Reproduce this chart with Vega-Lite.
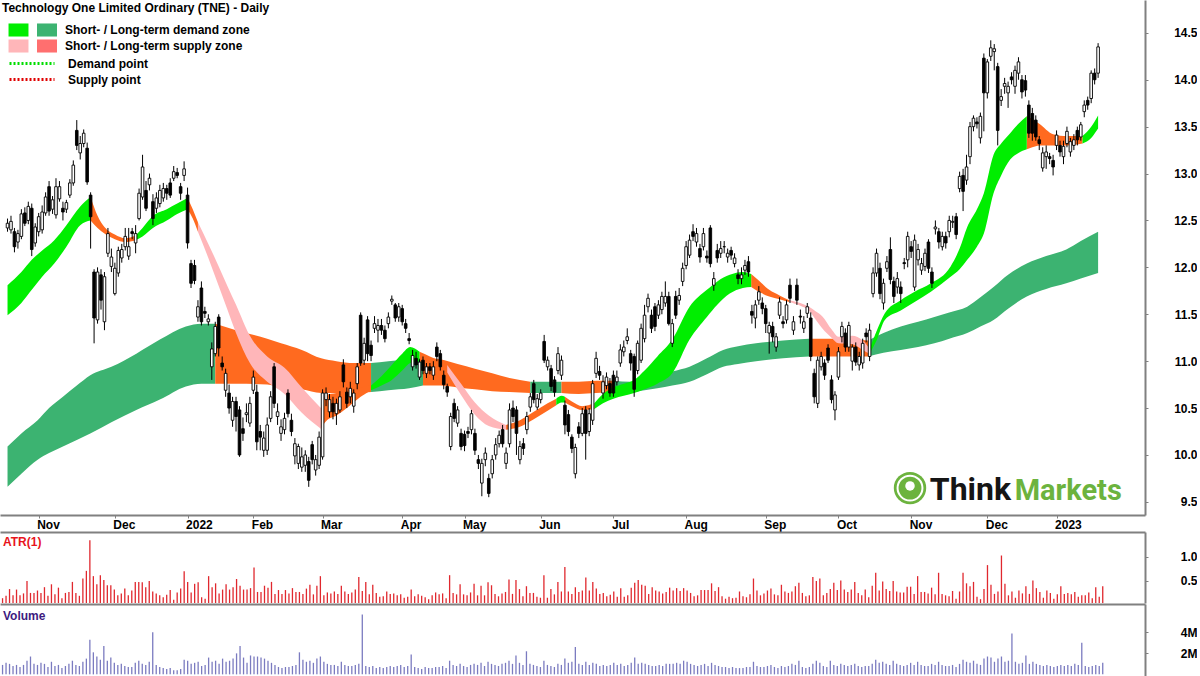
{
"$schema":"https://vega.github.io/schema/vega-lite/v6.json",
"padding":0,
"background":"white",
"spacing":0,
"config":{"view":{"stroke":null},"font":"Liberation Sans","concat":{"spacing":0}},
"datasets":{
"k":[
{"i":0,"o":12.42,"h":12.52,"l":12.38,"c":12.47,"a":0.14,"v":0.9},
{"i":1,"o":12.40,"h":12.55,"l":12.36,"c":12.49,"a":0.19,"v":1.1},
{"i":2,"o":12.38,"h":12.42,"l":12.16,"c":12.22,"a":0.33,"v":1.0},
{"i":3,"o":12.27,"h":12.40,"l":12.20,"c":12.36,"a":0.20,"v":0.8},
{"i":4,"o":12.33,"h":12.62,"l":12.30,"c":12.57,"a":0.32,"v":0.9},
{"i":5,"o":12.58,"h":12.64,"l":12.44,"c":12.47,"a":0.20,"v":0.7},
{"i":6,"o":12.50,"h":12.70,"l":12.46,"c":12.65,"a":0.24,"v":0.9},
{"i":7,"o":12.63,"h":12.68,"l":12.12,"c":12.19,"a":0.50,"v":1.3},
{"i":8,"o":12.26,"h":12.47,"l":12.22,"c":12.43,"a":0.25,"v":1.7},
{"i":9,"o":12.38,"h":12.58,"l":12.33,"c":12.54,"a":0.25,"v":1.0},
{"i":10,"o":12.40,"h":12.66,"l":12.36,"c":12.59,"a":0.30,"v":0.9},
{"i":11,"o":12.58,"h":12.80,"l":12.55,"c":12.75,"a":0.25,"v":1.1},
{"i":12,"o":12.86,"h":12.92,"l":12.55,"c":12.60,"a":0.37,"v":1.0},
{"i":13,"o":12.62,"h":12.76,"l":12.57,"c":12.72,"a":0.19,"v":0.7},
{"i":14,"o":12.56,"h":12.95,"l":12.52,"c":12.86,"a":0.43,"v":1.2},
{"i":15,"o":12.73,"h":12.92,"l":12.70,"c":12.86,"a":0.22,"v":0.8},
{"i":16,"o":12.63,"h":12.70,"l":12.50,"c":12.59,"a":0.36,"v":0.9},
{"i":17,"o":12.62,"h":12.72,"l":12.58,"c":12.69,"a":0.14,"v":0.6},
{"i":18,"o":12.77,"h":12.94,"l":12.74,"c":12.90,"a":0.25,"v":0.8},
{"i":19,"o":12.90,"h":13.14,"l":12.87,"c":13.09,"a":0.27,"v":1.0},
{"i":20,"o":13.46,"h":13.57,"l":13.25,"c":13.30,"a":0.48,"v":1.3},
{"i":21,"o":13.22,"h":13.40,"l":13.15,"c":13.32,"a":0.25,"v":0.9},
{"i":22,"o":13.32,"h":13.47,"l":13.28,"c":13.43,"a":0.19,"v":0.8},
{"i":23,"o":13.27,"h":13.33,"l":12.88,"c":12.91,"a":0.55,"v":1.2},
{"i":24,"o":12.77,"h":12.80,"l":12.20,"c":12.54,"a":0.71,"v":1.5},
{"i":25,"o":11.95,"h":11.98,"l":11.19,"c":11.46,"a":1.35,"v":3.3},
{"i":26,"o":11.44,"h":12.00,"l":11.40,"c":11.95,"a":0.60,"v":2.1},
{"i":27,"o":11.92,"h":11.98,"l":11.55,"c":11.65,"a":0.43,"v":1.7},
{"i":28,"o":11.42,"h":11.95,"l":11.33,"c":11.90,"a":0.62,"v":1.4},
{"i":29,"o":12.15,"h":12.42,"l":12.11,"c":12.36,"a":0.52,"v":2.7},
{"i":30,"o":12.01,"h":12.20,"l":11.95,"c":12.11,"a":0.41,"v":1.3},
{"i":31,"o":11.72,"h":12.05,"l":11.70,"c":11.99,"a":0.41,"v":1.6},
{"i":32,"o":11.94,"h":12.22,"l":11.90,"c":12.18,"a":0.32,"v":1.1},
{"i":33,"o":12.10,"h":12.25,"l":12.05,"c":12.19,"a":0.20,"v":0.9},
{"i":34,"o":12.22,"h":12.42,"l":12.18,"c":12.33,"a":0.24,"v":1.0},
{"i":35,"o":12.12,"h":12.42,"l":12.08,"c":12.22,"a":0.34,"v":0.8},
{"i":36,"o":12.38,"h":12.42,"l":12.30,"c":12.36,"a":0.20,"v":0.7},
{"i":37,"o":12.26,"h":12.45,"l":12.15,"c":12.36,"a":0.30,"v":0.7},
{"i":38,"o":12.52,"h":12.84,"l":12.50,"c":12.79,"a":0.48,"v":1.1},
{"i":39,"o":12.75,"h":13.20,"l":12.72,"c":13.07,"a":0.48,"v":1.3},
{"i":40,"o":12.82,"h":12.92,"l":12.60,"c":12.63,"a":0.47,"v":1.0},
{"i":41,"o":12.88,"h":13.00,"l":12.82,"c":12.95,"a":0.37,"v":0.9},
{"i":42,"o":12.70,"h":12.78,"l":12.45,"c":12.52,"a":0.50,"v":1.2},
{"i":43,"o":12.63,"h":12.80,"l":12.58,"c":12.74,"a":0.28,"v":4.0},
{"i":44,"o":12.68,"h":12.88,"l":12.64,"c":12.82,"a":0.24,"v":0.9},
{"i":45,"o":12.74,"h":12.90,"l":12.70,"c":12.84,"a":0.20,"v":0.7},
{"i":46,"o":12.84,"h":12.88,"l":12.72,"c":12.79,"a":0.16,"v":0.6},
{"i":47,"o":12.90,"h":12.95,"l":12.74,"c":12.77,"a":0.21,"v":0.5},
{"i":48,"o":12.95,"h":13.08,"l":12.92,"c":13.02,"a":0.31,"v":0.6},
{"i":49,"o":13.01,"h":13.06,"l":12.95,"c":12.98,"a":0.11,"v":0.4},
{"i":50,"o":12.86,"h":12.90,"l":12.72,"c":12.79,"a":0.26,"v":0.4},
{"i":51,"o":12.98,"h":13.13,"l":12.92,"c":13.05,"a":0.34,"v":0.5},
{"i":52,"o":12.77,"h":12.85,"l":12.20,"c":12.26,"a":0.70,"v":1.4},
{"i":53,"o":12.04,"h":12.08,"l":11.78,"c":11.83,"a":0.48,"v":1.3},
{"i":54,"o":12.02,"h":12.08,"l":11.82,"c":11.86,"a":0.26,"v":1.0},
{"i":55,"o":11.47,"h":11.65,"l":11.42,"c":11.58,"a":0.44,"v":1.1},
{"i":56,"o":11.78,"h":11.85,"l":11.38,"c":11.42,"a":0.47,"v":1.2},
{"i":57,"o":11.53,"h":11.58,"l":11.46,"c":11.51,"a":0.16,"v":0.8},
{"i":58,"o":11.42,"h":11.50,"l":11.38,"c":11.45,"a":0.13,"v":0.9},
{"i":59,"o":10.94,"h":11.20,"l":10.80,"c":11.13,"a":0.60,"v":1.6},
{"i":60,"o":11.08,"h":11.42,"l":11.05,"c":11.37,"a":0.37,"v":1.2},
{"i":61,"o":11.47,"h":11.50,"l":11.05,"c":11.14,"a":0.45,"v":1.3},
{"i":62,"o":10.98,"h":11.05,"l":10.90,"c":10.94,"a":0.24,"v":1.0},
{"i":63,"o":10.69,"h":10.92,"l":10.62,"c":10.87,"a":0.32,"v":1.5},
{"i":64,"o":10.66,"h":10.75,"l":10.44,"c":10.50,"a":0.43,"v":1.2},
{"i":65,"o":10.37,"h":10.62,"l":10.30,"c":10.57,"a":0.32,"v":1.3},
{"i":66,"o":10.57,"h":10.62,"l":10.25,"c":10.41,"a":0.37,"v":1.5},
{"i":67,"o":10.48,"h":10.52,"l":9.98,"c":10.00,"a":0.54,"v":2.0},
{"i":68,"o":10.28,"h":10.40,"l":10.15,"c":10.23,"a":0.40,"v":2.7},
{"i":69,"o":10.43,"h":10.55,"l":10.35,"c":10.45,"a":0.32,"v":1.6},
{"i":70,"o":10.34,"h":10.62,"l":10.30,"c":10.55,"a":0.32,"v":1.1},
{"i":71,"o":10.69,"h":10.90,"l":10.65,"c":10.83,"a":0.35,"v":1.8},
{"i":72,"o":10.67,"h":10.75,"l":10.05,"c":10.14,"a":0.78,"v":1.7},
{"i":73,"o":10.25,"h":10.32,"l":10.05,"c":10.19,"a":0.27,"v":1.7},
{"i":74,"o":10.05,"h":10.25,"l":9.98,"c":10.18,"a":0.27,"v":1.6},
{"i":75,"o":10.05,"h":10.40,"l":10.00,"c":10.32,"a":0.40,"v":1.5},
{"i":76,"o":10.39,"h":10.68,"l":10.35,"c":10.62,"a":0.36,"v":1.3},
{"i":77,"o":10.94,"h":10.98,"l":10.50,"c":10.55,"a":0.48,"v":1.1},
{"i":78,"o":10.41,"h":10.55,"l":10.32,"c":10.46,"a":0.23,"v":0.9},
{"i":79,"o":10.23,"h":10.38,"l":10.15,"c":10.30,"a":0.31,"v":0.7},
{"i":80,"o":10.27,"h":10.45,"l":10.22,"c":10.39,"a":0.23,"v":0.6},
{"i":81,"o":10.66,"h":10.70,"l":10.40,"c":10.44,"a":0.31,"v":0.7},
{"i":82,"o":10.37,"h":10.44,"l":10.20,"c":10.25,"a":0.24,"v":0.7},
{"i":83,"o":9.99,"h":10.18,"l":9.90,"c":10.12,"a":0.35,"v":0.8},
{"i":84,"o":9.91,"h":10.12,"l":9.85,"c":10.09,"a":0.27,"v":0.9},
{"i":85,"o":9.87,"h":10.08,"l":9.82,"c":9.98,"a":0.27,"v":2.1},
{"i":86,"o":9.89,"h":10.05,"l":9.82,"c":10.00,"a":0.23,"v":1.4},
{"i":87,"o":9.93,"h":9.98,"l":9.66,"c":9.73,"a":0.34,"v":1.2},
{"i":88,"o":10.11,"h":10.15,"l":9.90,"c":9.95,"a":0.42,"v":1.3},
{"i":89,"o":9.84,"h":10.00,"l":9.78,"c":9.95,"a":0.22,"v":1.1},
{"i":90,"o":9.89,"h":10.25,"l":9.85,"c":10.19,"a":0.40,"v":1.5},
{"i":91,"o":9.98,"h":10.70,"l":9.95,"c":10.66,"a":0.60,"v":1.7},
{"i":92,"o":10.59,"h":10.72,"l":10.52,"c":10.66,"a":0.20,"v":1.2},
{"i":93,"o":10.46,"h":10.65,"l":10.40,"c":10.59,"a":0.26,"v":1.0},
{"i":94,"o":10.55,"h":10.62,"l":10.38,"c":10.46,"a":0.24,"v":0.9},
{"i":95,"o":10.44,"h":10.60,"l":10.32,"c":10.55,"a":0.28,"v":0.9},
{"i":96,"o":10.48,"h":10.68,"l":10.45,"c":10.62,"a":0.23,"v":0.8},
{"i":97,"o":10.96,"h":11.02,"l":10.72,"c":10.78,"a":0.40,"v":1.2},
{"i":98,"o":10.67,"h":10.72,"l":10.50,"c":10.55,"a":0.28,"v":0.9},
{"i":99,"o":10.62,"h":10.78,"l":10.55,"c":10.71,"a":0.23,"v":0.8},
{"i":100,"o":10.52,"h":10.70,"l":10.45,"c":10.66,"a":0.26,"v":0.8},
{"i":101,"o":10.76,"h":10.98,"l":10.70,"c":10.94,"a":0.32,"v":0.9},
{"i":102,"o":11.49,"h":11.52,"l":10.95,"c":10.98,"a":0.58,"v":1.0},
{"i":103,"o":11.01,"h":11.25,"l":10.96,"c":11.19,"a":0.29,"v":5.7},
{"i":104,"o":11.44,"h":11.48,"l":11.00,"c":11.08,"a":0.48,"v":0.8},
{"i":105,"o":11.17,"h":11.22,"l":11.00,"c":11.06,"a":0.22,"v":0.7},
{"i":106,"o":11.35,"h":11.48,"l":11.30,"c":11.40,"a":0.42,"v":0.8},
{"i":107,"o":11.33,"h":11.45,"l":11.20,"c":11.38,"a":0.25,"v":0.6},
{"i":108,"o":11.38,"h":11.45,"l":11.28,"c":11.33,"a":0.17,"v":0.7},
{"i":109,"o":11.33,"h":11.38,"l":11.20,"c":11.24,"a":0.18,"v":0.6},
{"i":110,"o":11.40,"h":11.52,"l":11.35,"c":11.47,"a":0.28,"v":0.7},
{"i":111,"o":11.64,"h":11.70,"l":11.60,"c":11.66,"a":0.23,"v":0.8},
{"i":112,"o":11.60,"h":11.62,"l":11.42,"c":11.46,"a":0.24,"v":0.7},
{"i":113,"o":11.47,"h":11.62,"l":11.42,"c":11.58,"a":0.20,"v":0.8},
{"i":114,"o":11.56,"h":11.60,"l":11.38,"c":11.42,"a":0.22,"v":0.9},
{"i":115,"o":11.40,"h":11.45,"l":11.30,"c":11.35,"a":0.15,"v":0.7},
{"i":116,"o":11.24,"h":11.30,"l":11.18,"c":11.22,"a":0.17,"v":0.8},
{"i":117,"o":10.94,"h":11.12,"l":10.90,"c":11.06,"a":0.32,"v":1.9},
{"i":118,"o":11.03,"h":11.10,"l":10.92,"c":10.96,"a":0.18,"v":0.7},
{"i":119,"o":10.83,"h":11.02,"l":10.80,"c":10.99,"a":0.22,"v":0.6},
{"i":120,"o":11.01,"h":11.05,"l":10.86,"c":10.90,"a":0.19,"v":0.5},
{"i":121,"o":10.87,"h":10.98,"l":10.82,"c":10.94,"a":0.16,"v":0.7},
{"i":122,"o":10.94,"h":10.98,"l":10.86,"c":10.90,"a":0.12,"v":0.6},
{"i":123,"o":10.85,"h":11.00,"l":10.80,"c":10.94,"a":0.20,"v":0.6},
{"i":124,"o":11.15,"h":11.20,"l":11.00,"c":11.05,"a":0.26,"v":0.7},
{"i":125,"o":11.08,"h":11.12,"l":10.90,"c":10.94,"a":0.22,"v":0.7},
{"i":126,"o":10.85,"h":10.90,"l":10.70,"c":10.75,"a":0.24,"v":0.8},
{"i":127,"o":10.73,"h":10.76,"l":10.62,"c":10.67,"a":0.14,"v":0.6},
{"i":128,"o":10.09,"h":10.45,"l":10.05,"c":10.41,"a":0.62,"v":1.3},
{"i":129,"o":10.55,"h":10.60,"l":10.35,"c":10.39,"a":0.25,"v":0.9},
{"i":130,"o":10.34,"h":10.52,"l":10.30,"c":10.48,"a":0.22,"v":0.8},
{"i":131,"o":10.23,"h":10.28,"l":10.05,"c":10.09,"a":0.43,"v":1.0},
{"i":132,"o":10.22,"h":10.26,"l":10.04,"c":10.10,"a":0.22,"v":0.8},
{"i":133,"o":10.25,"h":10.30,"l":10.18,"c":10.23,"a":0.20,"v":0.7},
{"i":134,"o":10.27,"h":10.48,"l":10.22,"c":10.44,"a":0.26,"v":0.9},
{"i":135,"o":10.23,"h":10.28,"l":10.00,"c":10.05,"a":0.44,"v":1.0},
{"i":136,"o":9.95,"h":10.00,"l":9.85,"c":9.91,"a":0.20,"v":0.9},
{"i":137,"o":9.70,"h":9.96,"l":9.56,"c":9.91,"a":0.40,"v":1.1},
{"i":138,"o":9.95,"h":10.08,"l":9.88,"c":10.02,"a":0.20,"v":0.8},
{"i":139,"o":9.75,"h":9.80,"l":9.55,"c":9.59,"a":0.47,"v":1.2},
{"i":140,"o":9.80,"h":10.00,"l":9.75,"c":9.95,"a":0.41,"v":1.0},
{"i":141,"o":10.00,"h":10.18,"l":9.95,"c":10.11,"a":0.23,"v":0.9},
{"i":142,"o":10.12,"h":10.26,"l":10.08,"c":10.21,"a":0.18,"v":0.8},
{"i":143,"o":10.27,"h":10.32,"l":10.08,"c":10.12,"a":0.24,"v":1.0},
{"i":144,"o":9.91,"h":10.08,"l":9.85,"c":10.02,"a":0.27,"v":1.1},
{"i":145,"o":10.12,"h":10.55,"l":10.08,"c":10.48,"a":0.53,"v":1.3},
{"i":146,"o":10.50,"h":10.58,"l":10.35,"c":10.41,"a":0.23,"v":1.0},
{"i":147,"o":10.48,"h":10.52,"l":10.00,"c":10.23,"a":0.52,"v":1.8},
{"i":148,"o":9.95,"h":10.15,"l":9.90,"c":10.09,"a":0.33,"v":1.1},
{"i":149,"o":10.12,"h":10.18,"l":10.00,"c":10.07,"a":0.18,"v":0.9},
{"i":150,"o":10.27,"h":10.46,"l":10.22,"c":10.41,"a":0.39,"v":2.2},
{"i":151,"o":10.51,"h":10.66,"l":10.46,"c":10.62,"a":0.25,"v":1.0},
{"i":152,"o":10.76,"h":10.80,"l":10.55,"c":10.59,"a":0.25,"v":0.9},
{"i":153,"o":10.51,"h":10.65,"l":10.48,"c":10.60,"a":0.17,"v":0.8},
{"i":154,"o":10.59,"h":10.70,"l":10.55,"c":10.66,"a":0.15,"v":0.7},
{"i":155,"o":11.21,"h":11.28,"l":10.98,"c":11.01,"a":0.62,"v":1.3},
{"i":156,"o":10.94,"h":11.05,"l":10.90,"c":11.01,"a":0.15,"v":0.9},
{"i":157,"o":10.92,"h":10.96,"l":10.68,"c":10.73,"a":0.33,"v":0.8},
{"i":158,"o":10.80,"h":10.84,"l":10.62,"c":10.67,"a":0.22,"v":0.7},
{"i":159,"o":10.90,"h":11.15,"l":10.86,"c":11.08,"a":0.48,"v":1.0},
{"i":160,"o":10.85,"h":11.06,"l":10.80,"c":11.01,"a":0.28,"v":0.9},
{"i":161,"o":10.53,"h":10.58,"l":10.22,"c":10.32,"a":0.79,"v":1.5},
{"i":162,"o":10.43,"h":10.48,"l":10.20,"c":10.25,"a":0.28,"v":1.1},
{"i":163,"o":10.19,"h":10.22,"l":10.02,"c":10.07,"a":0.23,"v":1.2},
{"i":164,"o":9.80,"h":10.12,"l":9.75,"c":10.08,"a":0.37,"v":2.6},
{"i":165,"o":10.30,"h":10.35,"l":10.18,"c":10.23,"a":0.27,"v":1.0},
{"i":166,"o":10.23,"h":10.50,"l":10.20,"c":10.44,"a":0.30,"v":0.9},
{"i":167,"o":10.48,"h":10.52,"l":9.95,"c":10.23,"a":0.57,"v":1.2},
{"i":168,"o":10.25,"h":10.50,"l":10.20,"c":10.44,"a":0.30,"v":0.9},
{"i":169,"o":10.37,"h":10.80,"l":10.32,"c":10.76,"a":0.48,"v":1.1},
{"i":170,"o":10.87,"h":11.10,"l":10.82,"c":11.03,"a":0.34,"v":1.0},
{"i":171,"o":10.89,"h":10.95,"l":10.80,"c":10.85,"a":0.23,"v":0.8},
{"i":172,"o":10.66,"h":10.85,"l":10.60,"c":10.78,"a":0.25,"v":0.9},
{"i":173,"o":10.74,"h":10.88,"l":10.70,"c":10.83,"a":0.18,"v":0.8},
{"i":174,"o":10.76,"h":10.82,"l":10.62,"c":10.66,"a":0.21,"v":0.9},
{"i":175,"o":10.85,"h":10.90,"l":10.62,"c":10.66,"a":0.28,"v":1.1},
{"i":176,"o":10.78,"h":10.90,"l":10.74,"c":10.83,"a":0.17,"v":0.9},
{"i":177,"o":10.98,"h":11.18,"l":10.94,"c":11.12,"a":0.35,"v":1.0},
{"i":178,"o":11.10,"h":11.22,"l":11.05,"c":11.15,"a":0.17,"v":0.8},
{"i":179,"o":11.22,"h":11.35,"l":11.18,"c":11.26,"a":0.20,"v":0.9},
{"i":180,"o":11.08,"h":11.12,"l":10.90,"c":10.98,"a":0.36,"v":1.1},
{"i":181,"o":11.05,"h":11.08,"l":10.62,"c":10.70,"a":0.46,"v":1.6},
{"i":182,"o":10.90,"h":11.22,"l":10.86,"c":11.19,"a":0.52,"v":1.0},
{"i":183,"o":11.01,"h":11.40,"l":10.98,"c":11.35,"a":0.42,"v":1.1},
{"i":184,"o":11.24,"h":11.60,"l":11.20,"c":11.49,"a":0.40,"v":1.0},
{"i":185,"o":11.58,"h":11.72,"l":11.52,"c":11.67,"a":0.23,"v":0.9},
{"i":186,"o":11.49,"h":11.55,"l":11.30,"c":11.35,"a":0.37,"v":0.8},
{"i":187,"o":11.58,"h":11.62,"l":11.32,"c":11.37,"a":0.30,"v":0.8},
{"i":188,"o":11.49,"h":11.65,"l":11.45,"c":11.60,"a":0.28,"v":0.9},
{"i":189,"o":11.55,"h":11.74,"l":11.50,"c":11.69,"a":0.24,"v":0.8},
{"i":190,"o":11.62,"h":11.85,"l":11.58,"c":11.69,"a":0.27,"v":1.0},
{"i":191,"o":11.69,"h":11.74,"l":11.38,"c":11.40,"a":0.36,"v":1.0},
{"i":192,"o":11.19,"h":11.45,"l":11.15,"c":11.40,"a":0.30,"v":1.0},
{"i":193,"o":11.69,"h":11.75,"l":11.45,"c":11.49,"a":0.35,"v":1.1},
{"i":194,"o":11.65,"h":11.78,"l":11.60,"c":11.70,"a":0.29,"v":1.0},
{"i":195,"o":11.85,"h":12.05,"l":11.80,"c":11.99,"a":0.35,"v":1.3},
{"i":196,"o":12.02,"h":12.28,"l":11.98,"c":12.22,"a":0.30,"v":1.2},
{"i":197,"o":12.13,"h":12.35,"l":12.10,"c":12.29,"a":0.25,"v":1.0},
{"i":198,"o":12.38,"h":12.46,"l":12.28,"c":12.33,"a":0.18,"v":0.9},
{"i":199,"o":12.27,"h":12.42,"l":12.22,"c":12.36,"a":0.20,"v":0.8},
{"i":200,"o":12.20,"h":12.25,"l":12.05,"c":12.11,"a":0.31,"v":0.9},
{"i":201,"o":12.22,"h":12.42,"l":12.18,"c":12.36,"a":0.31,"v":1.0},
{"i":202,"o":12.12,"h":12.18,"l":12.05,"c":12.10,"a":0.31,"v":0.8},
{"i":203,"o":12.42,"h":12.45,"l":12.00,"c":12.04,"a":0.45,"v":1.1},
{"i":204,"o":11.81,"h":11.95,"l":11.75,"c":11.88,"a":0.29,"v":0.9},
{"i":205,"o":12.18,"h":12.25,"l":12.05,"c":12.10,"a":0.37,"v":0.8},
{"i":206,"o":12.15,"h":12.28,"l":12.10,"c":12.20,"a":0.18,"v":0.7},
{"i":207,"o":12.22,"h":12.28,"l":12.15,"c":12.22,"a":0.13,"v":0.7},
{"i":208,"o":12.11,"h":12.20,"l":12.05,"c":12.15,"a":0.17,"v":0.6},
{"i":209,"o":12.18,"h":12.22,"l":12.08,"c":12.13,"a":0.14,"v":0.7},
{"i":210,"o":12.04,"h":12.15,"l":12.00,"c":12.10,"a":0.15,"v":0.6},
{"i":211,"o":11.92,"h":11.98,"l":11.82,"c":11.88,"a":0.28,"v":0.6},
{"i":212,"o":11.88,"h":12.00,"l":11.82,"c":11.92,"a":0.18,"v":0.6},
{"i":213,"o":11.97,"h":12.08,"l":11.92,"c":12.02,"a":0.16,"v":0.7},
{"i":214,"o":12.06,"h":12.12,"l":11.90,"c":11.95,"a":0.22,"v":0.7},
{"i":215,"o":11.53,"h":11.60,"l":11.40,"c":11.49,"a":0.55,"v":1.2},
{"i":216,"o":11.46,"h":11.65,"l":11.35,"c":11.60,"a":0.30,"v":0.8},
{"i":217,"o":11.65,"h":11.80,"l":11.60,"c":11.74,"a":0.20,"v":0.7},
{"i":218,"o":11.62,"h":11.68,"l":11.50,"c":11.56,"a":0.24,"v":0.7},
{"i":219,"o":11.56,"h":11.60,"l":11.30,"c":11.40,"a":0.30,"v":0.8},
{"i":220,"o":11.30,"h":11.42,"l":11.08,"c":11.38,"a":0.34,"v":0.9},
{"i":221,"o":11.37,"h":11.42,"l":11.20,"c":11.26,"a":0.22,"v":0.7},
{"i":222,"o":11.15,"h":11.30,"l":11.10,"c":11.26,"a":0.20,"v":0.6},
{"i":223,"o":11.49,"h":11.68,"l":11.45,"c":11.63,"a":0.42,"v":0.8},
{"i":224,"o":11.42,"h":11.48,"l":11.35,"c":11.40,"a":0.28,"v":0.7},
{"i":225,"o":11.44,"h":11.65,"l":11.40,"c":11.60,"a":0.25,"v":0.8},
{"i":226,"o":11.81,"h":11.88,"l":11.62,"c":11.67,"a":0.28,"v":1.0},
{"i":227,"o":11.33,"h":11.48,"l":11.28,"c":11.42,"a":0.39,"v":0.9},
{"i":228,"o":11.81,"h":11.88,"l":11.60,"c":11.65,"a":0.46,"v":1.3},
{"i":229,"o":11.48,"h":11.55,"l":11.40,"c":11.47,"a":0.25,"v":0.7},
{"i":230,"o":11.35,"h":11.48,"l":11.30,"c":11.42,"a":0.18,"v":0.6},
{"i":231,"o":11.51,"h":11.62,"l":11.46,"c":11.58,"a":0.20,"v":0.7},
{"i":232,"o":11.46,"h":11.52,"l":11.00,"c":11.05,"a":0.58,"v":1.0},
{"i":233,"o":10.87,"h":10.92,"l":10.55,"c":10.62,"a":0.50,"v":1.3},
{"i":234,"o":10.55,"h":11.05,"l":10.50,"c":11.01,"a":0.55,"v":1.1},
{"i":235,"o":10.94,"h":11.10,"l":10.90,"c":11.05,"a":0.20,"v":0.8},
{"i":236,"o":10.98,"h":11.02,"l":10.80,"c":10.85,"a":0.25,"v":0.7},
{"i":237,"o":11.14,"h":11.18,"l":10.98,"c":11.01,"a":0.33,"v":1.3},
{"i":238,"o":10.80,"h":10.85,"l":10.55,"c":10.59,"a":0.46,"v":0.9},
{"i":239,"o":10.48,"h":10.68,"l":10.37,"c":10.64,"a":0.31,"v":0.8},
{"i":240,"o":10.83,"h":11.15,"l":10.80,"c":11.10,"a":0.51,"v":1.0},
{"i":241,"o":11.26,"h":11.42,"l":11.20,"c":11.37,"a":0.32,"v":0.9},
{"i":242,"o":11.30,"h":11.35,"l":11.10,"c":11.15,"a":0.27,"v":0.8},
{"i":243,"o":11.15,"h":11.42,"l":11.10,"c":11.38,"a":0.32,"v":0.9},
{"i":244,"o":11.00,"h":11.18,"l":10.90,"c":11.15,"a":0.48,"v":1.0},
{"i":245,"o":11.15,"h":11.20,"l":10.95,"c":10.99,"a":0.25,"v":0.8},
{"i":246,"o":10.96,"h":11.10,"l":10.90,"c":11.05,"a":0.20,"v":0.7},
{"i":247,"o":10.98,"h":11.24,"l":10.92,"c":11.19,"a":0.32,"v":0.8},
{"i":248,"o":11.30,"h":11.35,"l":11.20,"c":11.26,"a":0.16,"v":0.8},
{"i":249,"o":11.05,"h":11.40,"l":11.00,"c":11.33,"a":0.40,"v":1.0},
{"i":250,"o":11.72,"h":12.00,"l":11.68,"c":11.94,"a":0.67,"v":1.4},
{"i":251,"o":11.94,"h":12.20,"l":11.90,"c":12.15,"a":0.30,"v":1.1},
{"i":252,"o":11.99,"h":12.05,"l":11.66,"c":11.72,"a":0.49,"v":1.2},
{"i":253,"o":11.62,"h":11.88,"l":11.55,"c":11.83,"a":0.33,"v":1.0},
{"i":254,"o":11.99,"h":12.12,"l":11.95,"c":12.06,"a":0.29,"v":0.9},
{"i":255,"o":12.19,"h":12.32,"l":11.82,"c":11.87,"a":0.50,"v":1.3},
{"i":256,"o":11.85,"h":11.90,"l":11.62,"c":11.69,"a":0.28,"v":1.0},
{"i":257,"o":11.79,"h":11.95,"l":11.72,"c":11.88,"a":0.26,"v":0.9},
{"i":258,"o":11.79,"h":11.85,"l":11.62,"c":11.72,"a":0.26,"v":0.8},
{"i":259,"o":12.05,"h":12.10,"l":11.98,"c":12.04,"a":0.38,"v":0.9},
{"i":260,"o":12.08,"h":12.38,"l":12.00,"c":12.33,"a":0.38,"v":1.1},
{"i":261,"o":12.22,"h":12.28,"l":12.10,"c":12.17,"a":0.23,"v":0.9},
{"i":262,"o":11.79,"h":12.35,"l":11.75,"c":12.29,"a":0.60,"v":1.2},
{"i":263,"o":12.08,"h":12.25,"l":12.02,"c":12.19,"a":0.27,"v":0.9},
{"i":264,"o":11.97,"h":12.10,"l":11.92,"c":12.04,"a":0.27,"v":0.8},
{"i":265,"o":12.01,"h":12.20,"l":11.96,"c":12.15,"a":0.24,"v":0.8},
{"i":266,"o":12.27,"h":12.30,"l":11.94,"c":11.99,"a":0.36,"v":1.0},
{"i":267,"o":11.95,"h":12.00,"l":11.78,"c":11.83,"a":0.22,"v":0.9},
{"i":268,"o":12.41,"h":12.50,"l":12.35,"c":12.43,"a":0.67,"v":1.2},
{"i":269,"o":12.38,"h":12.42,"l":12.20,"c":12.27,"a":0.23,"v":0.9},
{"i":270,"o":12.22,"h":12.38,"l":12.18,"c":12.33,"a":0.20,"v":0.8},
{"i":271,"o":12.33,"h":12.38,"l":12.20,"c":12.26,"a":0.18,"v":0.8},
{"i":272,"o":12.38,"h":12.55,"l":12.32,"c":12.50,"a":0.29,"v":0.9},
{"i":273,"o":12.48,"h":12.55,"l":12.42,"c":12.49,"a":0.13,"v":0.7},
{"i":274,"o":12.54,"h":12.58,"l":12.30,"c":12.35,"a":0.28,"v":1.0},
{"i":275,"o":12.84,"h":13.02,"l":12.80,"c":12.97,"a":0.67,"v":1.4},
{"i":276,"o":12.98,"h":13.05,"l":12.60,"c":12.81,"a":0.45,"v":1.2},
{"i":277,"o":12.93,"h":13.20,"l":12.88,"c":13.07,"a":0.39,"v":1.1},
{"i":278,"o":13.18,"h":13.55,"l":13.10,"c":13.50,"a":0.48,"v":1.3},
{"i":279,"o":13.50,"h":13.62,"l":13.45,"c":13.59,"a":0.17,"v":1.0},
{"i":280,"o":13.55,"h":13.60,"l":13.48,"c":13.53,"a":0.12,"v":0.9},
{"i":281,"o":13.38,"h":13.65,"l":13.32,"c":13.61,"a":0.33,"v":1.5},
{"i":282,"o":14.23,"h":14.28,"l":13.45,"c":13.86,"a":0.83,"v":1.7},
{"i":283,"o":13.86,"h":14.22,"l":13.80,"c":14.19,"a":0.42,"v":1.6},
{"i":284,"o":14.25,"h":14.42,"l":14.20,"c":14.34,"a":0.23,"v":1.2},
{"i":285,"o":14.30,"h":14.38,"l":14.10,"c":14.33,"a":0.28,"v":1.5},
{"i":286,"o":14.14,"h":14.18,"l":13.30,"c":13.46,"a":1.03,"v":1.7},
{"i":287,"o":13.78,"h":13.90,"l":13.72,"c":13.82,"a":0.44,"v":1.2},
{"i":288,"o":13.93,"h":14.02,"l":13.85,"c":13.96,"a":0.20,"v":1.3},
{"i":289,"o":13.86,"h":13.98,"l":13.70,"c":13.93,"a":0.28,"v":3.9},
{"i":290,"o":14.03,"h":14.08,"l":13.95,"c":14.00,"a":0.15,"v":1.2},
{"i":291,"o":13.93,"h":14.15,"l":13.85,"c":14.10,"a":0.30,"v":1.0},
{"i":292,"o":14.07,"h":14.24,"l":14.00,"c":14.19,"a":0.24,"v":1.1},
{"i":293,"o":14.00,"h":14.05,"l":13.80,"c":13.87,"a":0.39,"v":1.8},
{"i":294,"o":13.99,"h":14.05,"l":13.82,"c":13.89,"a":0.23,"v":1.0},
{"i":295,"o":13.73,"h":13.78,"l":13.38,"c":13.43,"a":0.51,"v":1.2},
{"i":296,"o":13.64,"h":13.70,"l":13.35,"c":13.43,"a":0.35,"v":1.0},
{"i":297,"o":13.57,"h":13.62,"l":13.35,"c":13.39,"a":0.27,"v":0.9},
{"i":298,"o":13.36,"h":13.40,"l":13.25,"c":13.32,"a":0.15,"v":0.8},
{"i":299,"o":13.06,"h":13.28,"l":13.02,"c":13.22,"a":0.30,"v":0.9},
{"i":300,"o":13.18,"h":13.30,"l":13.05,"c":13.23,"a":0.25,"v":0.8},
{"i":301,"o":13.18,"h":13.22,"l":13.10,"c":13.16,"a":0.13,"v":0.7},
{"i":302,"o":13.14,"h":13.20,"l":12.98,"c":13.07,"a":0.22,"v":0.8},
{"i":303,"o":13.30,"h":13.46,"l":13.25,"c":13.41,"a":0.39,"v":0.9},
{"i":304,"o":13.30,"h":13.35,"l":13.18,"c":13.23,"a":0.23,"v":0.8},
{"i":305,"o":13.18,"h":13.35,"l":13.10,"c":13.29,"a":0.25,"v":0.9},
{"i":306,"o":13.32,"h":13.50,"l":13.28,"c":13.45,"a":0.22,"v":0.8},
{"i":307,"o":13.23,"h":13.38,"l":13.18,"c":13.34,"a":0.27,"v":1.0},
{"i":308,"o":13.30,"h":13.42,"l":13.25,"c":13.36,"a":0.17,"v":0.9},
{"i":309,"o":13.46,"h":13.50,"l":13.30,"c":13.36,"a":0.20,"v":3.0},
{"i":310,"o":13.39,"h":13.55,"l":13.35,"c":13.52,"a":0.20,"v":0.8},
{"i":311,"o":13.66,"h":13.78,"l":13.60,"c":13.73,"a":0.26,"v":0.7},
{"i":312,"o":13.78,"h":13.82,"l":13.68,"c":13.73,"a":0.14,"v":0.8},
{"i":313,"o":13.80,"h":14.10,"l":13.75,"c":14.07,"a":0.37,"v":0.9},
{"i":314,"o":14.07,"h":14.12,"l":13.95,"c":14.00,"a":0.17,"v":0.8},
{"i":315,"o":14.07,"h":14.39,"l":14.02,"c":14.35,"a":0.39,"v":1.1}
],
"sb":[
{"i":0,"hi":11.81,"lo":11.49,"g":"a1","z":"sd"},{"i":4,"hi":11.95,"lo":11.62,"g":"a1","z":"sd"},{"i":7,"hi":12.08,"lo":11.76,"g":"a1","z":"sd"},{"i":10,"hi":12.18,"lo":11.90,"g":"a1","z":"sd"},{"i":13.5,"hi":12.29,"lo":12.04,"g":"a1","z":"sd"},{"i":17,"hi":12.45,"lo":12.22,"g":"a1","z":"sd"},{"i":21,"hi":12.65,"lo":12.45,"g":"a1","z":"sd"},{"i":24,"hi":12.75,"lo":12.50,"g":"a1","z":"sd"},
{"i":37,"hi":12.34,"lo":12.29,"g":"a2","z":"sd"},{"i":39,"hi":12.42,"lo":12.33,"g":"a2","z":"sd"},{"i":42,"hi":12.55,"lo":12.42,"g":"a2","z":"sd"},{"i":46,"hi":12.62,"lo":12.50,"g":"a2","z":"sd"},{"i":49,"hi":12.68,"lo":12.57,"g":"a2","z":"sd"},{"i":52,"hi":12.74,"lo":12.62,"g":"a2","z":"sd"},
{"i":55,"hi":12.48,"lo":12.38,"g":"a3","z":"ss"},{"i":58,"hi":12.25,"lo":12.10,"g":"a3","z":"ss"},{"i":61,"hi":12.01,"lo":11.80,"g":"a3","z":"ss"},{"i":63.5,"hi":11.80,"lo":11.55,"g":"a3","z":"ss"},{"i":66,"hi":11.60,"lo":11.30,"g":"a3","z":"ss"},{"i":70,"hi":11.27,"lo":10.98,"g":"a3","z":"ss"},{"i":75,"hi":11.05,"lo":10.78,"g":"a3","z":"ss"},{"i":80,"hi":10.93,"lo":10.65,"g":"a3","z":"ss"},{"i":85,"hi":10.72,"lo":10.45,"g":"a3","z":"ss"},{"i":90.5,"hi":10.50,"lo":10.28,"g":"a3","z":"ss"},
{"i":105,"hi":10.74,"lo":10.69,"g":"a4","z":"sd"},{"i":108,"hi":10.84,"lo":10.74,"g":"a4","z":"sd"},{"i":111,"hi":10.96,"lo":10.80,"g":"a4","z":"sd"},{"i":114,"hi":11.08,"lo":10.90,"g":"a4","z":"sd"},{"i":116.3,"hi":11.15,"lo":10.98,"g":"a4","z":"sd"},{"i":119,"hi":11.10,"lo":11.00,"g":"a4","z":"sd"},
{"i":127,"hi":10.96,"lo":10.88,"g":"a5","z":"ss"},{"i":131,"hi":10.76,"lo":10.64,"g":"a5","z":"ss"},{"i":135,"hi":10.56,"lo":10.43,"g":"a5","z":"ss"},{"i":139,"hi":10.42,"lo":10.31,"g":"a5","z":"ss"},{"i":144,"hi":10.32,"lo":10.27,"g":"a5","z":"ss"},
{"i":158.5,"hi":10.60,"lo":10.53,"g":"a6","z":"sd"},{"i":160,"hi":10.63,"lo":10.56,"g":"a6","z":"sd"},{"i":161,"hi":10.62,"lo":10.56,"g":"a6","z":"sd"},
{"i":169.5,"hi":10.55,"lo":10.49,"g":"a7","z":"sd"},{"i":172,"hi":10.65,"lo":10.55,"g":"a7","z":"sd"},{"i":175,"hi":10.72,"lo":10.60,"g":"a7","z":"sd"},{"i":178,"hi":10.76,"lo":10.63,"g":"a7","z":"sd"},{"i":181,"hi":10.80,"lo":10.66,"g":"a7","z":"sd"},{"i":184,"hi":10.90,"lo":10.70,"g":"a7","z":"sd"},{"i":187.7,"hi":11.05,"lo":10.76,"g":"a7","z":"sd"},{"i":192,"hi":11.23,"lo":10.87,"g":"a7","z":"sd"},{"i":197,"hi":11.58,"lo":11.23,"g":"a7","z":"sd"},{"i":202,"hi":11.76,"lo":11.47,"g":"a7","z":"sd"},{"i":205,"hi":11.85,"lo":11.60,"g":"a7","z":"sd"},{"i":208.6,"hi":11.92,"lo":11.72,"g":"a7","z":"sd"},{"i":212.4,"hi":11.95,"lo":11.78,"g":"a7","z":"sd"},{"i":214.8,"hi":11.93,"lo":11.79,"g":"a7","z":"sd"},
{"i":225.8,"hi":11.65,"lo":11.63,"g":"a8","z":"ss"},{"i":229,"hi":11.62,"lo":11.59,"g":"a8","z":"ss"},{"i":231.5,"hi":11.58,"lo":11.54,"g":"a8","z":"ss"},{"i":233.5,"hi":11.53,"lo":11.44,"g":"a8","z":"ss"},{"i":235.3,"hi":11.48,"lo":11.35,"g":"a8","z":"ss"},{"i":238,"hi":11.34,"lo":11.25,"g":"a8","z":"ss"},{"i":240,"hi":11.26,"lo":11.19,"g":"a8","z":"ss"},{"i":244,"hi":11.27,"lo":11.18,"g":"a8","z":"ss"},{"i":247,"hi":11.22,"lo":11.12,"g":"a8","z":"ss"},{"i":249,"hi":11.13,"lo":11.08,"g":"a8","z":"ss"},
{"i":249,"hi":11.13,"lo":11.08,"g":"a9","z":"sd"},{"i":251,"hi":11.32,"lo":11.22,"g":"a9","z":"sd"},{"i":253.4,"hi":11.51,"lo":11.44,"g":"a9","z":"sd"},{"i":258,"hi":11.65,"lo":11.54,"g":"a9","z":"sd"},{"i":262,"hi":11.74,"lo":11.63,"g":"a9","z":"sd"},{"i":266.7,"hi":11.83,"lo":11.74,"g":"a9","z":"sd"},{"i":272.4,"hi":12.01,"lo":11.90,"g":"a9","z":"sd"},{"i":275,"hi":12.20,"lo":11.98,"g":"a9","z":"sd"},{"i":277.2,"hi":12.43,"lo":12.08,"g":"a9","z":"sd"},{"i":280,"hi":12.62,"lo":12.22,"g":"a9","z":"sd"},{"i":282,"hi":12.79,"lo":12.36,"g":"a9","z":"sd"},{"i":284.8,"hi":13.20,"lo":12.79,"g":"a9","z":"sd"},{"i":287,"hi":13.32,"lo":12.98,"g":"a9","z":"sd"},{"i":289.6,"hi":13.43,"lo":13.15,"g":"a9","z":"sd"},{"i":292,"hi":13.53,"lo":13.22,"g":"a9","z":"sd"},{"i":294.4,"hi":13.61,"lo":13.26,"g":"a9","z":"sd"},
{"i":310.5,"hi":13.40,"lo":13.32,"g":"a10","z":"sd"},{"i":313,"hi":13.50,"lo":13.38,"g":"a10","z":"sd"},{"i":315,"hi":13.62,"lo":13.48,"g":"a10","z":"sd"}
],
"lb":[
{"i":0,"hi":10.09,"lo":9.66,"g":"b1","z":"ld"},{"i":4,"hi":10.23,"lo":9.80,"g":"b1","z":"ld"},{"i":8.7,"hi":10.37,"lo":9.95,"g":"b1","z":"ld"},{"i":12,"hi":10.50,"lo":10.02,"g":"b1","z":"ld"},{"i":16,"hi":10.62,"lo":10.09,"g":"b1","z":"ld"},{"i":20,"hi":10.74,"lo":10.16,"g":"b1","z":"ld"},{"i":23.9,"hi":10.85,"lo":10.23,"g":"b1","z":"ld"},{"i":30,"hi":10.94,"lo":10.35,"g":"b1","z":"ld"},{"i":37.2,"hi":11.08,"lo":10.48,"g":"b1","z":"ld"},{"i":44,"hi":11.23,"lo":10.59,"g":"b1","z":"ld"},{"i":51.5,"hi":11.37,"lo":10.73,"g":"b1","z":"ld"},{"i":56,"hi":11.40,"lo":10.76,"g":"b1","z":"ld"},{"i":60,"hi":11.40,"lo":10.76,"g":"b1","z":"ld"},
{"i":60,"hi":11.40,"lo":10.76,"g":"b2","z":"ls"},{"i":66,"hi":11.33,"lo":10.76,"g":"b2","z":"ls"},{"i":75,"hi":11.24,"lo":10.75,"g":"b2","z":"ls"},{"i":79,"hi":11.19,"lo":10.72,"g":"b2","z":"ls"},{"i":85,"hi":11.12,"lo":10.70,"g":"b2","z":"ls"},{"i":90.6,"hi":11.03,"lo":10.66,"g":"b2","z":"ls"},{"i":95,"hi":11.00,"lo":10.66,"g":"b2","z":"ls"},{"i":100,"hi":10.98,"lo":10.66,"g":"b2","z":"ls"},{"i":105,"hi":10.98,"lo":10.67,"g":"b2","z":"ls"},
{"i":105,"hi":10.98,"lo":10.67,"g":"b3","z":"ld"},{"i":110,"hi":11.00,"lo":10.69,"g":"b3","z":"ld"},{"i":116,"hi":11.02,"lo":10.71,"g":"b3","z":"ld"},{"i":120,"hi":11.04,"lo":10.74,"g":"b3","z":"ld"},
{"i":120,"hi":11.04,"lo":10.74,"g":"b4","z":"ls"},{"i":125,"hi":11.02,"lo":10.74,"g":"b4","z":"ls"},{"i":130,"hi":10.97,"lo":10.72,"g":"b4","z":"ls"},{"i":135,"hi":10.92,"lo":10.70,"g":"b4","z":"ls"},{"i":140,"hi":10.87,"lo":10.68,"g":"b4","z":"ls"},{"i":145,"hi":10.82,"lo":10.67,"g":"b4","z":"ls"},{"i":151,"hi":10.78,"lo":10.66,"g":"b4","z":"ls"},
{"i":151,"hi":10.78,"lo":10.66,"g":"b5","z":"ld"},{"i":155,"hi":10.78,"lo":10.66,"g":"b5","z":"ld"},{"i":160,"hi":10.78,"lo":10.66,"g":"b5","z":"ld"},
{"i":160,"hi":10.78,"lo":10.66,"g":"b6","z":"ls"},{"i":165,"hi":10.78,"lo":10.65,"g":"b6","z":"ls"},{"i":170,"hi":10.79,"lo":10.66,"g":"b6","z":"ls"},{"i":175,"hi":10.79,"lo":10.67,"g":"b6","z":"ls"},
{"i":175,"hi":10.79,"lo":10.67,"g":"b7","z":"ld"},{"i":180,"hi":10.78,"lo":10.67,"g":"b7","z":"ld"},{"i":184,"hi":10.80,"lo":10.69,"g":"b7","z":"ld"},{"i":187.7,"hi":10.85,"lo":10.71,"g":"b7","z":"ld"},{"i":192,"hi":10.89,"lo":10.74,"g":"b7","z":"ld"},{"i":197,"hi":10.94,"lo":10.78,"g":"b7","z":"ld"},{"i":202,"hi":11.03,"lo":10.86,"g":"b7","z":"ld"},{"i":206.7,"hi":11.12,"lo":10.94,"g":"b7","z":"ld"},{"i":211,"hi":11.16,"lo":10.97,"g":"b7","z":"ld"},{"i":216.2,"hi":11.19,"lo":11.00,"g":"b7","z":"ld"},{"i":224,"hi":11.22,"lo":11.03,"g":"b7","z":"ld"},{"i":231.5,"hi":11.24,"lo":11.05,"g":"b7","z":"ld"},
{"i":231.5,"hi":11.24,"lo":11.05,"g":"b8","z":"ls"},{"i":236,"hi":11.24,"lo":11.05,"g":"b8","z":"ls"},{"i":240,"hi":11.24,"lo":11.05,"g":"b8","z":"ls"},{"i":244,"hi":11.23,"lo":11.05,"g":"b8","z":"ls"},{"i":248.6,"hi":11.22,"lo":11.05,"g":"b8","z":"ls"},
{"i":248.6,"hi":11.22,"lo":11.05,"g":"b9","z":"ld"},{"i":253,"hi":11.30,"lo":11.09,"g":"b9","z":"ld"},{"i":258,"hi":11.37,"lo":11.12,"g":"b9","z":"ld"},{"i":263,"hi":11.42,"lo":11.15,"g":"b9","z":"ld"},{"i":267.7,"hi":11.47,"lo":11.19,"g":"b9","z":"ld"},{"i":272,"hi":11.52,"lo":11.24,"g":"b9","z":"ld"},{"i":277.2,"hi":11.58,"lo":11.30,"g":"b9","z":"ld"},{"i":281,"hi":11.68,"lo":11.37,"g":"b9","z":"ld"},{"i":284.8,"hi":11.79,"lo":11.44,"g":"b9","z":"ld"},{"i":289,"hi":11.92,"lo":11.56,"g":"b9","z":"ld"},{"i":294.4,"hi":12.04,"lo":11.69,"g":"b9","z":"ld"},{"i":300,"hi":12.12,"lo":11.77,"g":"b9","z":"ld"},{"i":305.8,"hi":12.19,"lo":11.83,"g":"b9","z":"ld"},{"i":310,"hi":12.28,"lo":11.88,"g":"b9","z":"ld"},{"i":315,"hi":12.38,"lo":11.94,"g":"b9","z":"ld"},
{"i":24,"hi":12.75,"lo":12.50,"g":"c1","z":"ls"},{"i":26,"hi":12.55,"lo":12.42,"g":"c1","z":"ls"},{"i":28,"hi":12.43,"lo":12.36,"g":"c1","z":"ls"},{"i":31,"hi":12.35,"lo":12.30,"g":"c1","z":"ls"},{"i":34,"hi":12.31,"lo":12.27,"g":"c1","z":"ls"},{"i":37,"hi":12.34,"lo":12.29,"g":"c1","z":"ls"},
{"i":52,"hi":12.74,"lo":12.62,"g":"c2","z":"ls"},{"i":53.5,"hi":12.62,"lo":12.52,"g":"c2","z":"ls"},{"i":55,"hi":12.48,"lo":12.38,"g":"c2","z":"ls"},
{"i":90.5,"hi":10.50,"lo":10.28,"g":"c3","z":"ls"},{"i":92,"hi":10.64,"lo":10.36,"g":"c3","z":"ls"},{"i":95,"hi":10.66,"lo":10.42,"g":"c3","z":"ls"},{"i":98,"hi":10.68,"lo":10.50,"g":"c3","z":"ls"},{"i":102,"hi":10.72,"lo":10.62,"g":"c3","z":"ls"},{"i":105,"hi":10.74,"lo":10.69,"g":"c3","z":"ls"},
{"i":119,"hi":11.10,"lo":11.00,"g":"c4","z":"ls"},{"i":122,"hi":11.05,"lo":10.96,"g":"c4","z":"ls"},{"i":125,"hi":11.00,"lo":10.92,"g":"c4","z":"ls"},{"i":127,"hi":10.96,"lo":10.88,"g":"c4","z":"ls"},
{"i":144,"hi":10.32,"lo":10.27,"g":"c5","z":"ls"},{"i":148,"hi":10.37,"lo":10.30,"g":"c5","z":"ls"},{"i":152,"hi":10.46,"lo":10.38,"g":"c5","z":"ls"},{"i":156,"hi":10.55,"lo":10.47,"g":"c5","z":"ls"},{"i":158.5,"hi":10.60,"lo":10.53,"g":"c5","z":"ls"},
{"i":161,"hi":10.62,"lo":10.56,"g":"c6","z":"ls"},{"i":163,"hi":10.57,"lo":10.52,"g":"c6","z":"ls"},{"i":166,"hi":10.52,"lo":10.48,"g":"c6","z":"ls"},{"i":169.5,"hi":10.55,"lo":10.49,"g":"c6","z":"ls"},
{"i":214.8,"hi":11.93,"lo":11.79,"g":"c7","z":"ls"},{"i":217,"hi":11.86,"lo":11.74,"g":"c7","z":"ls"},{"i":220,"hi":11.76,"lo":11.69,"g":"c7","z":"ls"},{"i":223,"hi":11.70,"lo":11.66,"g":"c7","z":"ls"},{"i":225.8,"hi":11.65,"lo":11.63,"g":"c7","z":"ls"},
{"i":294.4,"hi":13.61,"lo":13.26,"g":"c8","z":"ls"},{"i":296,"hi":13.58,"lo":13.28,"g":"c8","z":"ls"},{"i":298,"hi":13.53,"lo":13.30,"g":"c8","z":"ls"},{"i":302,"hi":13.42,"lo":13.30,"g":"c8","z":"ls"},{"i":306,"hi":13.40,"lo":13.30,"g":"c8","z":"ls"},{"i":310.5,"hi":13.40,"lo":13.32,"g":"c8","z":"ls"}
],
"pts":[{"z":"dp"},{"z":"sp"}]
},
"vconcat":[
{
"width":1145,"height":515,
"title":{"text":"Technology One Limited Ordinary (TNE) - Daily","anchor":"start","frame":"group","offset":-15,"dx":2,"fontSize":12,"fontWeight":"bold","color":"black","font":"Liberation Sans"},
"layer":[
{"data":{"name":"lb"},"mark":{"type":"area","interpolate":"monotone","opacity":1},
"encoding":{
"x":{"field":"i","type":"quantitative","scale":{"domain":[-0.73,327.1],"nice":false,"zero":false},
"axis":{"orient":"bottom","values":[9,31,52,71,91,114,132,154,175,196,219,240,261,283,303],"labelExpr":"['Nov','Dec','2022','Feb','Mar','Apr','May','Jun','Jul','Aug','Sep','Oct','Nov','Dec','2023'][indexof([9,31,52,71,91,114,132,154,175,196,219,240,261,283,303], datum.value)]","labelAlign":"left","labelOffset":-2,"labelFlush":false,"labelOverlap":false,"labelFont":"Liberation Sans","labelFontSize":12,"labelFontWeight":"bold","labelColor":"black","labelPadding":1,"labelBaseline":"top","tickSize":3,"tickColor":"#808080","domainColor":"#808080","domainWidth":2,"grid":false,"title":null,"minExtent":17,"maxExtent":17}},
"y":{"field":"hi","type":"quantitative","scale":{"domain":[9.36,14.85],"nice":false,"zero":false},
"axis":{"orient":"right","values":[9.5,10,10.5,11,11.5,12,12.5,13,13.5,14,14.5],"format":".1f","labelAlign":"right","labelPadding":49,"tickSize":3,"tickColor":"#808080","labelFont":"Liberation Sans","labelFontSize":12,"labelFontWeight":"bold","labelColor":"black","domainColor":"#808080","domainWidth":2,"grid":false,"title":null}},
"y2":{"field":"lo"},
"detail":{"field":"g"},
"color":{"field":"z","type":"nominal","scale":{"domain":["ld","ls","lsx"],"range":["#3cb371","#ff6a1f","#ff6f6f"]},
"legend":{"orient":"none","legendX":39.5,"legendY":22.5,"title":null,"values":["ld","lsx"],"padding":0,"rowPadding":1,"symbolSize":225,"symbolType":"M-1.33,-0.87H1.33V0.87H-1.33Z","symbolOpacity":1,"symbolStrokeWidth":0,"labelFont":"Liberation Sans","labelFontSize":12,"labelFontWeight":"bold","labelColor":"black","labelOffset":10.5,"labelLimit":400,
"labelExpr":"datum.label=='ld' ? 'Short- / Long-term demand zone' : 'Short- / Long-term supply zone'"}}
}},
{"data":{"name":"sb"},"mark":{"type":"area","interpolate":"monotone","opacity":1},
"encoding":{
"x":{"field":"i","type":"quantitative"},
"y":{"field":"hi","type":"quantitative"},
"y2":{"field":"lo"},
"detail":{"field":"g"},
"fill":{"field":"z","type":"nominal","scale":{"domain":["sd","ss"],"range":["#00ee00","#ffb6b9"]},
"legend":{"orient":"none","legendX":11,"legendY":22.5,"title":null,"padding":0,"rowPadding":1,"symbolSize":225,"symbolType":"M-1.33,-0.87H1.33V0.87H-1.33Z","symbolOpacity":1,"symbolStrokeWidth":0,"labelExpr":"''","labelFontSize":12,"labelFontWeight":"bold"}}
}},
{"data":{"name":"pts"},"mark":{"type":"rule","strokeWidth":3,"clip":true},
"encoding":{
"x":{"datum":-0.7,"type":"quantitative"},
"y":{"datum":14.84,"type":"quantitative"},
"y2":{"datum":14.84},
"stroke":{"field":"z","type":"nominal","scale":{"domain":["dp","sp"],"range":["#00dd00","#e00000"]},
"legend":{"orient":"none","legendX":23,"legendY":54.5,"title":null,"padding":0,"rowPadding":1,"symbolSize":225,"symbolType":"M-3.0,0H3.0","symbolStrokeWidth":3,"symbolDash":[2,2],"symbolOpacity":1,"labelFont":"Liberation Sans","labelFontSize":12,"labelFontWeight":"bold","labelColor":"black","labelOffset":27,"labelLimit":400,
"labelExpr":"datum.label=='dp' ? 'Demand point' : 'Supply point'"}}
}},
{"data":{"name":"k"},"mark":{"type":"rule","color":"black","strokeWidth":1},
"encoding":{"x":{"field":"i","type":"quantitative"},"y":{"field":"l","type":"quantitative"},"y2":{"field":"h"}}},
{"data":{"name":"k"},"mark":{"type":"bar","size":2.6,"stroke":"black","strokeWidth":0.9},
"encoding":{"x":{"field":"i","type":"quantitative"},"y":{"field":"o","type":"quantitative"},"y2":{"field":"c"},
"fill":{"condition":{"test":"datum.c >= datum.o","value":"white"},"value":"black"}}},
{"data":{"values":[{"n":"logo"}]},"mark":{"type":"point","filled":true,"color":"#6cb33e","size":1050,"opacity":1},
"encoding":{"x":{"datum":260.67,"type":"quantitative"},"y":{"datum":9.647,"type":"quantitative"}}},
{"data":{"values":[{"n":"logo"}]},"mark":{"type":"point","filled":false,"color":"white","strokeWidth":2,"size":620,"opacity":1},
"encoding":{"x":{"datum":260.67,"type":"quantitative"},"y":{"datum":9.647,"type":"quantitative"}}},
{"data":{"values":[{"n":"logo"}]},"mark":{"type":"point","filled":true,"color":"white","size":90,"opacity":1},
"encoding":{"x":{"datum":260.67,"type":"quantitative"},"y":{"datum":9.67,"type":"quantitative"}}},
{"data":{"values":[{"t":"Think"}]},"mark":{"type":"text","align":"left","baseline":"alphabetic","font":"Roboto","fontSize":32,"fontWeight":"bold","color":"#151515"},
"encoding":{"text":{"field":"t"},"x":{"datum":266.4,"type":"quantitative"},"y":{"datum":9.52,"type":"quantitative"}}},
{"data":{"values":[{"t":"Markets"}]},"mark":{"type":"text","align":"left","baseline":"alphabetic","font":"Roboto","fontSize":29,"fontWeight":"bold","color":"#6cb33e"},
"encoding":{"text":{"field":"t"},"x":{"datum":290.9,"type":"quantitative"},"y":{"datum":9.52,"type":"quantitative"}}}
]
},
{
"width":1145,"height":71,
"title":{"text":"ATR(1)","anchor":"start","frame":"group","offset":-17,"dx":3,"fontSize":12,"fontWeight":"bold","color":"#e8141c","font":"Liberation Sans"},
"data":{"name":"k"},
"mark":{"type":"rule","color":"#e0282e","strokeWidth":1.3},
"encoding":{
"x":{"field":"i","type":"quantitative","scale":{"domain":[-0.73,327.1],"nice":false,"zero":false},"axis":{"orient":"top","labels":false,"ticks":false,"domain":true,"domainColor":"#808080","domainWidth":2,"grid":false,"title":null,"minExtent":0,"maxExtent":0}},
"y":{"field":"a","type":"quantitative","scale":{"domain":[0.04,1.52],"nice":false,"zero":false},"axis":{"orient":"right","values":[0.5,1.0],"format":".1f","labelAlign":"right","labelPadding":49,"tickSize":3,"tickColor":"#808080","labelFont":"Liberation Sans","labelFontSize":12,"labelFontWeight":"bold","labelColor":"black","domainColor":"#808080","domainWidth":2,"grid":false,"title":null}},
"y2":{"datum":0.04}
}
},
{
"width":1145,"height":73,
"title":{"text":"Volume","anchor":"start","frame":"group","offset":-19,"dx":3,"fontSize":12,"fontWeight":"bold","color":"#3d1a80","font":"Liberation Sans"},
"data":{"name":"k"},
"mark":{"type":"rule","color":"#7b7bc0","strokeWidth":1.3},
"encoding":{
"x":{"field":"i","type":"quantitative","scale":{"domain":[-0.73,327.1],"nice":false,"zero":false},"axis":{"orient":"top","labels":false,"ticks":false,"domain":true,"domainColor":"#808080","domainWidth":2,"grid":false,"title":null,"minExtent":0,"maxExtent":0}},
"y":{"field":"v","type":"quantitative","scale":{"domain":[-0.25,6.7],"nice":false,"zero":false},"axis":{"orient":"right","values":[2,4],"labelExpr":"datum.value + 'M'","labelAlign":"right","labelPadding":49,"tickSize":3,"tickColor":"#808080","labelFont":"Liberation Sans","labelFontSize":12,"labelFontWeight":"bold","labelColor":"black","domainColor":"#808080","domainWidth":2,"grid":false,"title":null}},
"y2":{"datum":0}
}
}
]
}
